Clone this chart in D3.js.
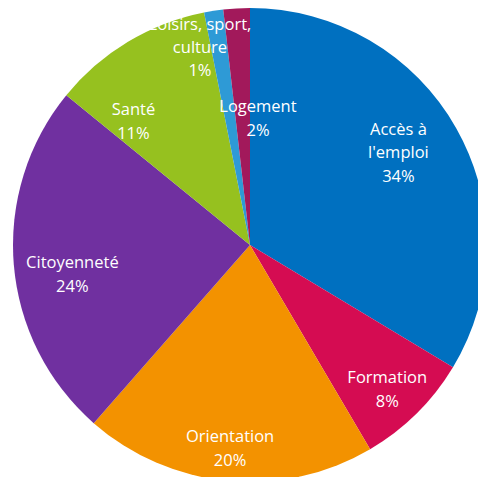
<!DOCTYPE html>
<html>
<head>
<meta charset="utf-8">
<script src="https://cdn.jsdelivr.net/npm/d3@7"></script>
<style>
    body { margin: 0; background: #fff; }
    svg { display: block; }
</style>
</head>
<body>
<div id="pie"></div>
<script>
// chart data
var categories = ["Accès à l'emploi", "Formation", "Orientation", "Citoyenneté", "Santé", "Loisirs, sport, culture", "Logement"];
var values = [33.6, 7.9, 19.9, 24.4, 11.0, 1.3, 1.8];
var percentLabels = ["34%", "8%", "20%", "24%", "11%", "1%", "2%"];
// label text broken into lines as in the original
var labelLines = [["Accès à", "l'emploi"], ["Formation"], ["Orientation"], ["Citoyenneté"], ["Santé"], ["Loisirs, sport,", "culture"], ["Logement"]];
var colors = ["#0070c0", "#d50c52", "#f39200", "#7030a0", "#96c11f", "#2e9ad6", "#a2195b"];

function init() {
    var w = 478;
    var h = 477;
    var cx = 250, cy = 245;
    var radius = 237;

    // hand placed labels: [angle in degrees clockwise from top, distance from centre]
    var labelPlacement = [[58, 175], [136.4, 199], [185.6, 204], [260.7, 180], [316.7, 170], [345.8, 204], [3.6, 127]];

    var dataset = categories.map(function (c, i) {
        return { name: c, value: values[i], pct: percentLabels[i], lines: labelLines[i], color: colors[i] };
    });

    var svg = d3.select("#pie")
        .append("svg")
        .attr("width", w)
        .attr("height", h);

    var g = svg.append("g")
        .attr("transform", "translate(" + cx + "," + cy + ")");

    var pie = d3.pie()
        .sort(null)
        .value(function (d) { return d.value; });

    var arc = d3.arc()
        .innerRadius(0)
        .outerRadius(radius);

    var arcs = pie(dataset);

    g.selectAll("path")
        .data(arcs)
        .enter()
        .append("path")
        .attr("d", arc)
        .attr("fill", function (d) { return d.data.color; });

    // labels
    var lineH = 23.5;
    var labels = g.selectAll("text.lbl")
        .data(arcs)
        .enter()
        .append("text")
        .attr("class", "lbl")
        .attr("text-anchor", "middle")
        .style("font-family", "Open Sans")
        .style("font-size", "16.5px")
        .style("fill", "#ffffff")
        .attr("transform", function (d, i) {
            var a = labelPlacement[i][0] * Math.PI / 180;
            var r = labelPlacement[i][1];
            return "translate(" + (r * Math.sin(a)) + "," + (-r * Math.cos(a)) + ")";
        });

    labels.each(function (d) {
        var lines = d.data.lines.concat([d.data.pct]);
        var t = d3.select(this);
        var top = -(lines.length - 1) * lineH / 2;
        lines.forEach(function (s, k) {
            t.append("tspan")
                .attr("x", 0)
                .attr("y", top + k * lineH)
                .attr("dy", "0.35em")
                .text(s);
        });
    });
}

window.onload = init;
</script>
</body>
</html>
